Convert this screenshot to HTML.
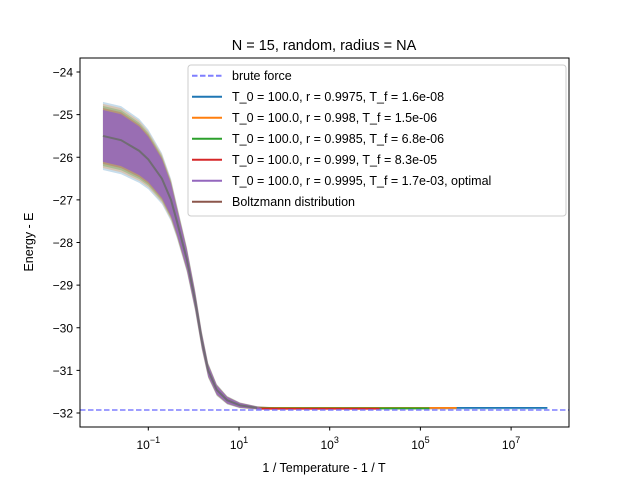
<!DOCTYPE html>
<html><head><meta charset="utf-8"><style>
body{margin:0;background:#fff;}
svg{display:block;font-family:"Liberation Sans","DejaVu Sans",sans-serif;}
</style></head><body>
<svg id="chart" width="640" height="480" viewBox="0 0 640 480" xmlns="http://www.w3.org/2000/svg">
<text x="324" y="50" text-anchor="middle" font-size="14.5">N = 15, random, radius = NA</text>
<g id="plot"></g>
<rect x="80" y="58" width="489" height="369" fill="none" stroke="#000" stroke-width="1"/>
<g id="ticks" font-size="12"></g>
<text x="324" y="472" text-anchor="middle" font-size="12.5">1 / Temperature - 1 / T</text>
<text transform="translate(33,242) rotate(-90)" text-anchor="middle" font-size="12.5">Energy - E</text>
<g>
<rect x="188" y="65" width="378" height="151" rx="3" fill="#fff" fill-opacity="0.85" stroke="#ccc"/>
<g id="legend-items" font-size="12.5"></g>
</g>
</svg>
<script>
const logT=[-2,-1.6,-1.2,-1,-0.7,-0.5,-0.37,-0.15,0.03,0.18,0.32,0.51,0.74,1.02,1.4,2,8];
const meanE=[-25.5,-25.6,-25.85,-26.05,-26.5,-27.0,-27.5,-28.4,-29.35,-30.3,-31.0,-31.46,-31.7,-31.82,-31.88,-31.9,-31.9];
const spread=[0.8,0.8,0.75,0.7,0.6,0.5,0.4,0.3,0.25,0.22,0.18,0.14,0.1,0.07,0.04,0.02,0.02];
const bruteE=-31.93;
const seriesNames=["T_0 = 100.0, r = 0.9975, T_f = 1.6e-08","T_0 = 100.0, r = 0.998, T_f = 1.5e-06","T_0 = 100.0, r = 0.9985, T_f = 6.8e-06","T_0 = 100.0, r = 0.999, T_f = 8.3e-05","T_0 = 100.0, r = 0.9995, T_f = 1.7e-03, optimal"];
const seriesEndLog=[7.8,5.8,5.2,4.1,1.5];
const seriesFinal=[-31.88,-31.88,-31.89,-31.9,-31.92];
const colors=["#1f77b4","#ff7f0e","#2ca02c","#d62728","#9467bd"];
const yTicks=[-24,-25,-26,-27,-28,-29,-30,-31,-32];
const xTickExp=[-1,1,3,5,7];
const NS="http://www.w3.org/2000/svg";
const X=k=>148.3+(k+1)*45.35;
const Y=e=>72+(-24-e)*42.625;
function mk(tag,attrs,parent){const el=document.createElementNS(NS,tag);for(const a in attrs)el.setAttribute(a,attrs[a]);parent.appendChild(el);return el;}
const plot=document.getElementById('plot');
colors.forEach((c,i)=>{
  const up=[],lo=[];
  for(let j=0;j<logT.length;j++){
    let k=Math.min(logT[j],seriesEndLog[i]);
    if(logT[j]>seriesEndLog[i]&&j>0&&logT[j-1]>=seriesEndLog[i])break;
    const f=1-0.06*i;
    up.push(X(k)+","+Y(meanE[j]+spread[j]*f));
    lo.unshift(X(k)+","+Y(meanE[j]-spread[j]*f));
  }
  const p=mk('polygon',{points:up.concat(lo).join(" "),fill:c,'fill-opacity':i==4?0.85:0.25,stroke:'none'},plot);
  
  
  const l=mk('line',{x1:X(1.4),x2:X(seriesEndLog[i]),y1:Y(seriesFinal[i]),y2:Y(seriesFinal[i]),stroke:c,'stroke-width':1.8},plot);
  
  
});
const bp=logT.slice(0,15).map((k,j)=>X(k)+","+Y(meanE[j])).join(" ");
const b=mk('polyline',{points:bp,fill:'none',stroke:'#6b6b6b','stroke-width':2,'stroke-opacity':0.9},plot);


const bf=mk('line',{x1:80,x2:569,y1:Y(bruteE),y2:Y(bruteE),stroke:'#7f7fff','stroke-width':1.5,'stroke-dasharray':'5.5,2.5'},plot);


const tk=document.getElementById('ticks');
yTicks.forEach(v=>{
  const y=Y(v);
  mk('line',{x1:76.5,x2:80,y1:y,y2:y,stroke:'#000'},tk);
  const t=mk('text',{x:73,y:y+4.5,'text-anchor':'end'},tk);
  t.textContent='\u2212'+Math.abs(v);
  
  
});
xTickExp.forEach(k=>{
  const x=X(k);
  mk('line',{x1:x,x2:x,y1:427,y2:430.5,stroke:'#000'},tk);
  const t=mk('text',{x:x,y:449,'text-anchor':'middle'},tk);
  t.innerHTML='10<tspan dy="-6" font-size="9">'+(k<0?'\u2212'+(-k):k)+'</tspan>';
  
  
});
const lg=document.getElementById('legend-items');
const entries=[["brute force","#7f7fff",true]].concat(seriesNames.map((n,i)=>[n,colors[i],false])).concat([["Boltzmann distribution","#8c564b",false]]);
entries.forEach((e,i)=>{
  const y=75.7+i*21;
  const g=mk('g',{},lg);
  
  
  const a={x1:192,x2:222,y1:y,y2:y,stroke:e[1],'stroke-width':2};
  if(e[2])a['stroke-dasharray']='5.5,2.5';
  mk('line',a,g);
  const t=mk('text',{x:232,y:y+4.5},g);
  t.textContent=e[0];
});
</script>
</body></html>
